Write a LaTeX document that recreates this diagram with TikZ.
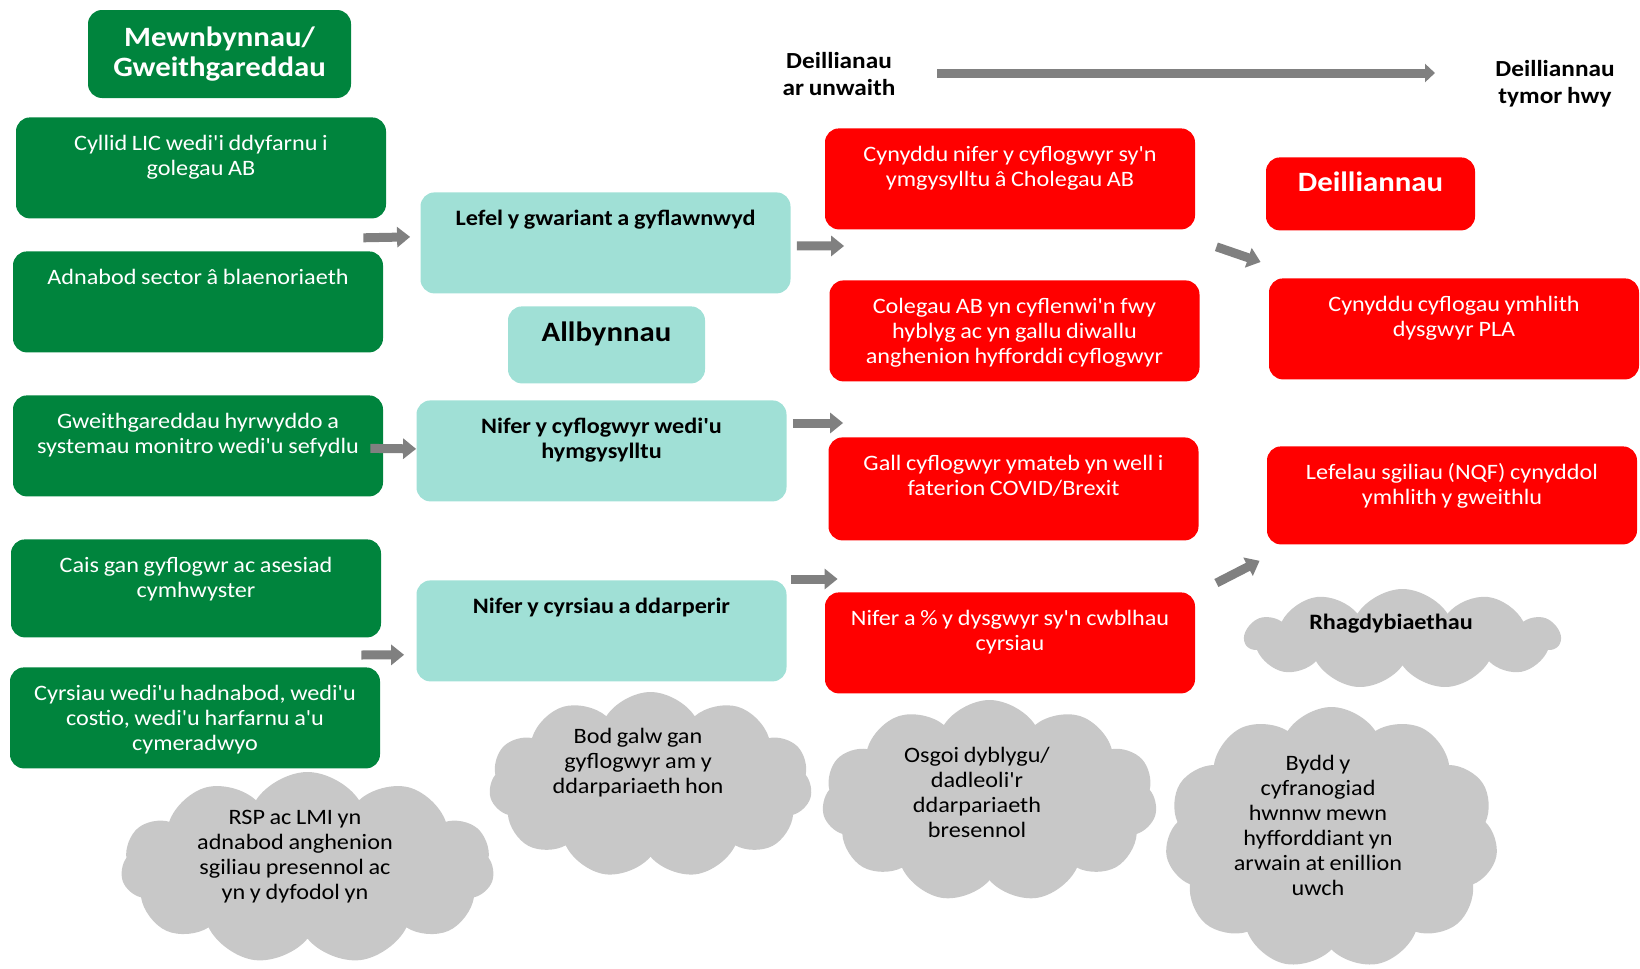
\documentclass[tikz,border=0pt]{standalone}
\usepackage{fontspec}
\setmainfont{Carlito}[Ligatures=TeXOff, FakeStretch=1.1, WordSpace=0.85]
\usetikzlibrary{arrows.meta,shapes.symbols}
\definecolor{ingreen}{RGB}{0,132,61}
\definecolor{outcyan}{RGB}{160,224,214}
\definecolor{resred}{RGB}{255,0,0}
\definecolor{cldgray}{RGB}{200,200,200}
\definecolor{arrgray}{RGB}{128,128,128}
\newcommand{\boxwd}{179pt}
\newcommand{\bodyfont}{\fontsize{11}{12.5}\selectfont}
\newcommand{\headfont}{\fontsize{14}{15}\selectfont\bfseries}
\tikzset{
    boxsty/.style={rounded corners=7pt, align=flush center, text width=\boxwd, inner xsep=3pt, inner ysep=0pt, text height=16.5pt, text depth=34pt, anchor=north, font=\bodyfont},
    insty/.style={boxsty, fill=ingreen, text=white},
    outsty/.style={boxsty, fill=outcyan, font=\bodyfont\bfseries},
    ressty/.style={boxsty, fill=resred, text=white},
    titlesty/.style={rounded corners=7pt, align=flush center, inner sep=0pt, font=\headfont},
    cldsty/.style={cloud, cloud puffs=11, cloud puff arc=115, fill=cldgray, inner sep=0pt},
    cldtxtsty/.style={align=center, font=\bodyfont},
    hdsty/.style={align=center, font=\fontsize{11.5}{13.5}\selectfont\bfseries},
    barrsty/.style={draw=arrgray, line width=4.5pt, -{Triangle[length=6.5pt,width=10pt]}},
}

\begin{document}
\begin{tikzpicture}[x=0.5pt,y=-0.5pt]
  \useasboundingbox (0,0) rectangle (1640,969);

  % mewnbynnau
  \node[titlesty, fill=ingreen, text=white, minimum width=131.5pt, minimum height=44pt] (mewn) at (219.5,54) {Mewnbynnau/\\Gweithgareddau};
  \node[insty] (in1) at (201,117) {Cyllid LIC wedi'i ddyfarnu i\\golegau AB};
  \node[insty] (in2) at (198,251) {Adnabod sector â blaenoriaeth};
  \node[insty] (in3) at (198,395) {Gweithgareddau hyrwyddo a\\systemau monitro wedi'u sefydlu};
  \node[insty, text depth=32.5pt] (in4) at (196,539) {Cais gan gyflogwr ac asesiad\\cymhwyster};
  \node[insty] (in5) at (195,667) {Cyrsiau wedi'u hadnabod, wedi'u\\costio, wedi'u harfarnu a'u\\cymeradwyo};

  % allbynnau
  \node[titlesty, fill=outcyan, text width=98.5pt, text height=17.5pt, text depth=21pt, anchor=north] (allb) at (606.5,306) {Allbynnau};
  \node[outsty] (out1) at (605.5,192) {Lefel y gwariant a gyflawnwyd};
  \node[outsty] (out2) at (601.5,400) {Nifer y cyflogwyr wedi'u\\hymgysylltu};
  \node[outsty] (out3) at (601.5,580) {Nifer y cyrsiau a ddarperir};

  % deilliannau ar unwaith
  \node[ressty] (im1) at (1010,128) {Cynyddu nifer y cyflogwyr sy'n\\ymgysylltu â Cholegau AB};
  \node[ressty] (im2) at (1014.5,280) {Colegau AB yn cyflenwi'n fwy\\hyblyg ac yn gallu diwallu\\anghenion hyfforddi cyflogwyr};
  \node[ressty, text depth=35pt] (im3) at (1013.5,437) {Gall cyflogwyr ymateb yn well i\\faterion COVID/Brexit};
  \node[ressty] (im4) at (1010,592) {Nifer a \% y dysgwyr sy'n cwblhau\\cyrsiau};

  % deilliannau tymor hwy
  \node[titlesty, fill=resred, text=white, text width=104.5pt, text height=16.8pt, text depth=19.7pt, anchor=north] (deil) at (1370.5,157) {Deilliannau};
  \node[ressty] (lt1) at (1454,278) {Cynyddu cyflogau ymhlith\\dysgwyr PLA};
  \node[ressty, text depth=32.5pt] (lt2) at (1452,446) {Lefelau sgiliau (NQF) cynyddol\\ymhlith y gweithlu};

  % penawdau
  \node[hdsty] (hd1) at (839,74.5) {Deillianau\\ar unwaith};
  \node[hdsty] (hd2) at (1555,83.5) {Deilliannau\\tymor hwy};
  \coordinate (tl1) at (937,73);
  \coordinate (tl2) at (1435,73);
  \draw[barrsty, -{Triangle[length=5pt,width=9pt]}] (tl1) -- (tl2);

  % rhagdybiaethau
  \node[cldsty, minimum width=157.5pt, minimum height=50pt] (c1) at (1402.5,639) {};
  \node[cldtxtsty, font=\bodyfont\bfseries] (c1t) at (1391,624) {Rhagdybiaethau};
  \node[cldsty, minimum width=186.5pt, minimum height=96pt] (c2) at (307.5,868) {};
  \node[cldtxtsty] (c2t) at (295,857) {RSP ac LMI yn\\adnabod anghenion\\sgiliau presennol ac\\yn y dyfodol yn};
  \node[cldsty, minimum width=161.5pt, minimum height=93pt] (c3) at (650.5,785) {};
  \node[cldtxtsty] (c3t) at (638,762.5) {Bod galw gan\\gyflogwyr am y\\ddarpariaeth hon};
  \node[cldsty, minimum width=167.5pt, minimum height=101pt] (c4) at (989.5,801) {};
  \node[cldtxtsty] (c4t) at (977,792.5) {Osgoi dyblygu/\\dadleoli'r\\ddarpariaeth\\bresennol};
  \node[cldsty, minimum width=166.5pt, minimum height=131pt] (c5) at (1331.5,838) {};
  \node[cldtxtsty] (c5t) at (1318,825) {Bydd y\\cyfranogiad\\hwnnw mewn\\hyfforddiant yn\\arwain at enillion\\uwch};

  % saethau
  \draw[barrsty] ([shift={(-23,19)}]in1.south east) -- ([shift={(-10,-6)}]out1.west);
  \draw[barrsty] ([shift={(-13,2.5)}]in3.east) -- ([shift={(0,-2)}]out2.west);
  \draw[barrsty] ([shift={(-19,-12)}]in5.north east) -- ([shift={(-12,-27)}]out3.south west);
  \draw[barrsty] ([shift={(6,3)}]out1.east) -- ([shift={(15,-34)}]im2.north west);
  \draw[barrsty] ([shift={(6,23)}]out2.north east) -- ([shift={(15,-14)}]im3.north west);
  \draw[barrsty] ([shift={(4,-1)}]out3.north east) -- ([shift={(13,-13)}]im4.north west);
  \draw[barrsty] ([shift={(21,17)}]im1.south east) -- ([shift={(-8,-16)}]lt1.north west);
  \draw[barrsty] ([shift={(21,-9)}]im4.north east) -- ([shift={(-7,16)}]lt2.south west);
\end{tikzpicture}
\end{document}
